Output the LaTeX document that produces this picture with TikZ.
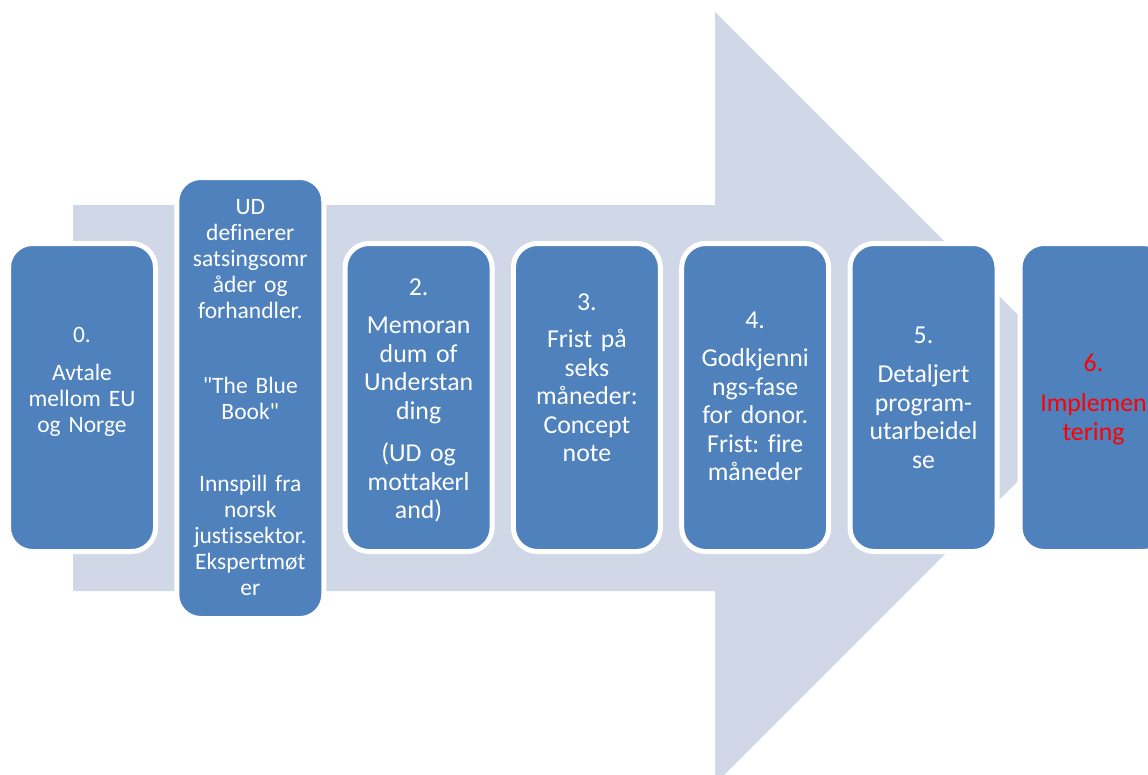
\documentclass[tikz,border=0pt]{standalone}
\usepackage{fontspec}
\setmainfont{Carlito}[Ligatures={TeX,NoCommon}]
\usepackage{xcolor}
\usetikzlibrary{positioning}
\definecolor{boxblue}{HTML}{4F81BD}
\definecolor{arrowgrey}{HTML}{D0D8E8}
\frenchspacing

\begin{document}
\begin{tikzpicture}[x=1pt,y=-1pt,
  stepbox/.style={draw=white,line width=5pt,fill=boxblue,rounded corners=24pt,minimum width=147pt,minimum height=308pt,inner sep=0pt},
  tallbox/.style={stepbox,minimum height=441pt},
  steptext/.style={text=white,text width=150pt,align=center,anchor=base,inner sep=0pt,font=\fontsize{25.8}{28.5}\selectfont},
  smalltext/.style={steptext,font=\fontsize{23.5}{26}\selectfont}]
\useasboundingbox (0,0) rectangle (1148,774);
\clip (0,0) rectangle (1148,774);
% big arrow behind the steps
\fill[arrowgrey] (73,205) -- (715,205) -- (715,12) -- (1101,398) -- (715,784) -- (715,591) -- (73,591) -- cycle;

\node[stepbox] (b0) at (82,397.5) {};
\node[tallbox] (b1) at (250.3,398) {};
\node[stepbox] (b2) at (418.6,397.5) {};
\node[stepbox] (b3) at (586.9,397.5) {};
\node[stepbox] (b4) at (755.2,397.5) {};
\node[stepbox] (b5) at (923.5,397.5) {};
\node[stepbox] (b6) at (1093.5,397.5) {};

\node[smalltext] (t0) at (82,342) {0.\\[12pt]Avtale\\mellom EU\\og Norge};
\node[smalltext] (t1) at (250.3,214) {UD\\definerer\\satsingsomr\\åder og\\forhandler.\\[49pt]\textquotedbl The Blue\\Book\textquotedbl\\[46pt]Innspill fra\\norsk\\justissektor.\\Ekspertmøt\\er};
\node[steptext] (t2) at (418.6,295) {2.\\[10pt]Memoran\\dum of\\Understan\\ding\\[14pt](UD og\\mottakerl\\and)};
\node[steptext] (t3) at (586.9,310) {3.\\[9pt]Frist på\\seks\\måneder:\\Concept\\note};
\node[steptext] (t4) at (755.2,328) {4.\\[10pt]Godkjenni\\ngs-fase\\for donor.\\Frist: fire\\måneder};
\node[steptext] (t5) at (923.5,343) {5.\\[11pt]Detaljert\\program-\\utarbeidel\\se};
\node[steptext,text=red] (t6) at (1093.5,371) {6.\\[12pt]Implemen\\tering};
\end{tikzpicture}
\end{document}
